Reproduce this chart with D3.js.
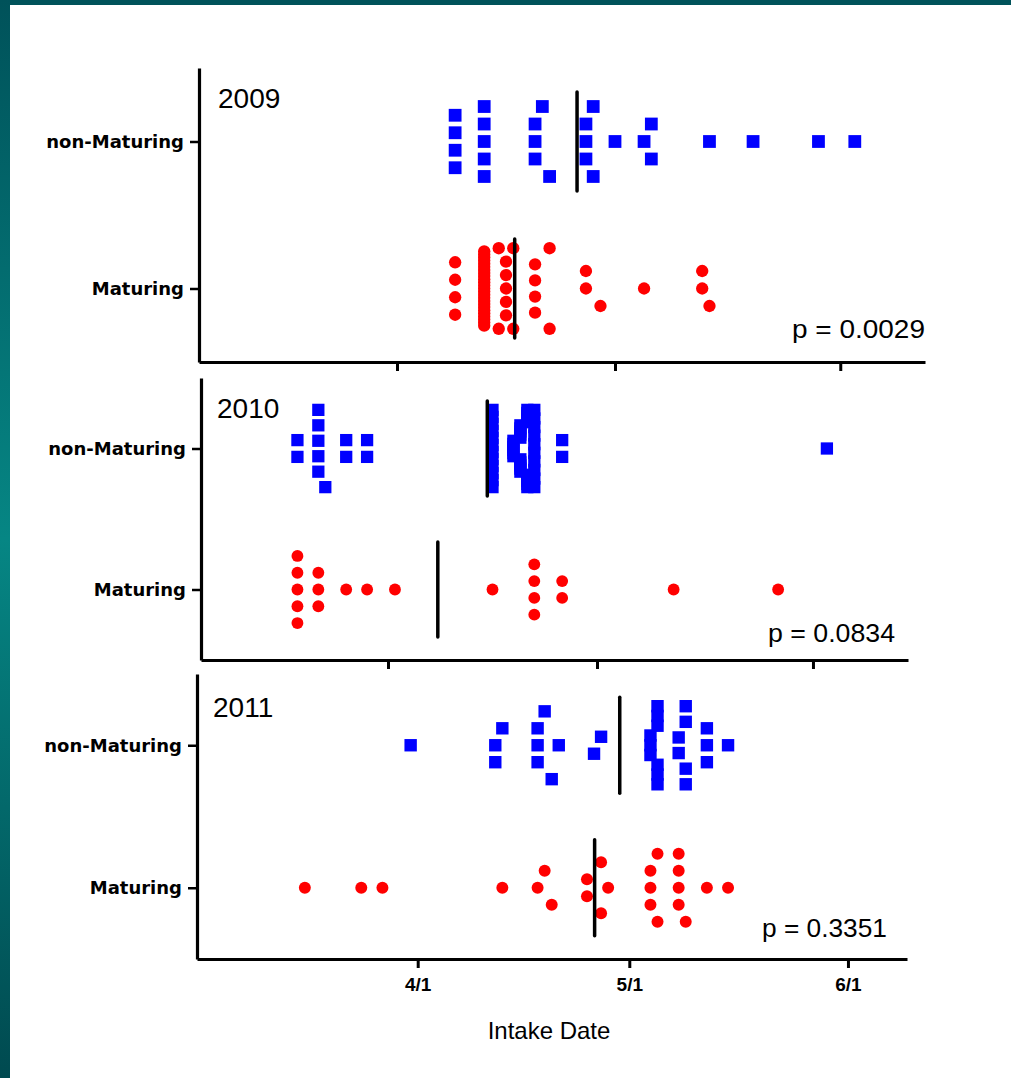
<!DOCTYPE html>
<html>
<head>
<meta charset="utf-8">
<script src="https://cdn.jsdelivr.net/npm/d3@7"></script>
<style>
  html, body { margin: 0; padding: 0; background: #fff; }
  svg { display: block; }
</style>
</head>
<body>
<svg id="chart" width="1011" height="1078"></svg>
<script>
const categories = ["non-Maturing", "Maturing"];
const years = ["2009", "2010", "2011"];
const pValues = ["p = 0.0029", "p = 0.0834", "p = 0.3351"];
const tickDates = ["4/1", "5/1", "6/1"];
const xTitle = "Intake Date";

// intake dates, one per fish; order inside a column = stacking order (Prism style)
const nonMaturing2009 = [
  "4/9", "4/9", "4/9", "4/9",
  "4/13", "4/13", "4/13", "4/13", "4/13",
  "4/20", "4/20", "4/20", "4/21", "4/22",
  "4/27", "4/27", "4/27", "4/28", "4/28",
  "5/1", "5/5", "5/6", "5/6", "5/14", "5/20", "5/29", "6/3"
];
const maturing2009 = [
  "4/9", "4/9", "4/9", "4/9",
  "4/13", "4/13", "4/13", "4/13", "4/13", "4/13", "4/13", "4/13", "4/13", "4/13",
  "4/13", "4/13", "4/13", "4/13", "4/13", "4/13", "4/13", "4/13", "4/13", "4/13",
  "4/13", "4/13", "4/13", "4/13", "4/13", "4/15", "4/15",
  "4/16", "4/16", "4/16", "4/16", "4/16", "4/17", "4/17",
  "4/20", "4/20", "4/20", "4/20", "4/22", "4/22",
  "4/27", "4/27", "4/29",
  "5/5", "5/13", "5/13", "5/14"
];
const nonMaturing2010 = [
  "3/19", "3/19",
  "3/22", "3/22", "3/22", "3/22", "3/22", "3/23",
  "3/26", "3/26", "3/29", "3/29",
  "4/16", "4/16", "4/16", "4/16", "4/16", "4/16", "4/16", "4/16", "4/16", "4/16", "4/16", "4/16",
  "4/19", "4/19", "4/19", "4/19", "4/19", "4/19",
  "4/20", "4/20", "4/20", "4/20", "4/20", "4/20", "4/20", "4/20", "4/20", "4/20",
  "4/21", "4/21", "4/21", "4/21", "4/21", "4/21", "4/21", "4/21", "4/21", "4/21",
  "4/22", "4/22", "4/22", "4/22", "4/22", "4/22", "4/22", "4/22", "4/22", "4/22",
  "4/26", "4/26", "6/3"
];
const maturing2010 = [
  "3/19", "3/19", "3/19", "3/19", "3/19",
  "3/22", "3/22", "3/22", "3/26", "3/29", "4/2",
  "4/16", "4/22", "4/22", "4/22", "4/22", "4/26", "4/26",
  "5/12", "5/27"
];
const nonMaturing2011 = [
  "3/31",
  "4/12", "4/13", "4/12",
  "4/18", "4/18", "4/18", "4/19", "4/20",
  "4/21", "4/27", "4/26",
  "5/4", "5/4", "5/4", "5/5", "5/5", "5/5", "5/5", "5/5", "5/5",
  "5/8", "5/8", "5/9", "5/9", "5/9", "5/9",
  "5/12", "5/12", "5/12", "5/15"
];
const maturing2011 = [
  "3/16", "3/24", "3/27", "4/13",
  "4/18", "4/19", "4/20",
  "4/25", "4/25", "4/27", "4/27", "4/28",
  "5/4", "5/4", "5/4", "5/5", "5/5",
  "5/8", "5/8", "5/8", "5/8", "5/9",
  "5/12", "5/15"
];
const seriesByYear = [
  [nonMaturing2009, maturing2009],
  [nonMaturing2010, maturing2010],
  [nonMaturing2011, maturing2011]
];

// panel layout (each panel was pasted in separately, so axes don't line up)
const panels = [
  {left: 199, right: 925, top: 68, bottom: 362, apr: 397, may: 615, yearX: 218, yearY: 108, pX: 925, pY: 338, pW: 133, labels: false},
  {left: 201, right: 908, top: 378, bottom: 660, apr: 388, may: 597, yearX: 217, yearY: 418, pX: 895, pY: 642, pW: 127, labels: false},
  {left: 197, right: 907, top: 674, bottom: 959, apr: 417.7, may: 629.3, yearX: 213, yearY: 717, pX: 887, pY: 937, pW: 125, labels: true}
];

const svg = d3.select("#chart");
const parse = d3.utcParse("%m/%d/%Y");

// teal slide frame
const grad = svg.append("defs").append("linearGradient")
  .attr("id", "frame").attr("x1", 0).attr("y1", 0).attr("x2", 0).attr("y2", 1);
grad.selectAll("stop")
  .data([[0, "#00525a"], [0.5, "#068684"], [1, "#004a50"]])
  .enter().append("stop")
  .attr("offset", d => d[0])
  .attr("stop-color", d => d[1]);
svg.append("rect").attr("width", 1011).attr("height", 1078).attr("fill", "#fff");
svg.append("rect").attr("width", 1011).attr("height", 5).attr("fill", "#00535a");
svg.append("rect").attr("width", 10).attr("height", 1078).attr("fill", "url(#frame)");

// spread points that fall within 2 days of each other vertically, centre-out
function swarm(dates, year, x, yc, step, maxSpread) {
  const pts = dates.map((d, i) => ({date: parse(d + "/" + year), i}));
  const sorted = pts.slice().sort((a, b) => a.date - b.date || a.i - b.i);
  const bins = [];
  sorted.forEach(p => {
    const b = bins[bins.length - 1];
    if (b && d3.utcDay.count(b.start, p.date) <= 2) b.pts.push(p);
    else bins.push({start: p.date, pts: [p]});
  });
  bins.forEach(b => {
    b.pts.sort((a, c) => a.i - c.i);
    const n = b.pts.length;
    const s = n > 1 ? Math.min(step, maxSpread / (n - 1)) : 0;
    b.pts.forEach((p, k) => {
      let slot;
      if (n % 2) slot = k === 0 ? 0 : (k % 2 ? -1 : 1) * Math.ceil(k / 2);
      else slot = (k % 2 ? 1 : -1) * (Math.floor(k / 2) + 0.5);
      p.cx = x(p.date);
      p.cy = yc + slot * s;
    });
  });
  return pts;
}

panels.forEach((pn, pi) => {
  const year = years[pi];
  const g = svg.append("g");

  const x = d3.scaleUtc()
    .domain([parse("4/1/" + year), parse("5/1/" + year)])
    .range([pn.apr, pn.may]);
  x.domain([x.invert(pn.left), x.invert(pn.right)]).range([pn.left, pn.right]);

  const y = d3.scalePoint().domain(categories).range([pn.top, pn.bottom]).padding(0.5);
  const gap = y.step();
  const step = gap * 0.119, maxSpread = gap * 0.548;
  const side = gap * 0.087, r = gap * 0.042;

  const [nonM, mat] = seriesByYear[pi];
  const nonPts = swarm(nonM, year, x, y(categories[0]), step, maxSpread);
  const matPts = swarm(mat, year, x, y(categories[1]), step, maxSpread);

  g.selectAll("rect.sq")
    .data(nonPts)
    .enter().append("rect")
    .attr("class", "sq")
    .attr("x", d => d.cx - side / 2)
    .attr("y", d => d.cy - side / 2)
    .attr("width", side)
    .attr("height", side)
    .attr("fill", "#0000ff");

  g.selectAll("circle.dot")
    .data(matPts)
    .enter().append("circle")
    .attr("class", "dot")
    .attr("cx", d => d.cx)
    .attr("cy", d => d.cy)
    .attr("r", r)
    .attr("fill", "#ff0000");

  // mean lines
  g.selectAll("line.mean")
    .data([[categories[0], nonPts], [categories[1], matPts]])
    .enter().append("line")
    .attr("class", "mean")
    .attr("x1", d => x(new Date(d3.mean(d[1], p => +p.date))))
    .attr("x2", d => x(new Date(d3.mean(d[1], p => +p.date))))
    .attr("y1", d => y(d[0]) - gap * 0.337)
    .attr("y2", d => y(d[0]) + gap * 0.337)
    .attr("stroke", "#000")
    .attr("stroke-width", 3.5)
    .attr("stroke-linecap", "round");

  // axes
  const xAxis = d3.axisBottom(x)
    .tickValues(tickDates.map(t => parse(t + "/" + year)))
    .tickSize(9)
    .tickSizeOuter(0)
    .tickPadding(10)
    .tickFormat((d, i) => pn.labels ? tickDates[i] : "");
  g.append("g")
    .attr("transform", `translate(0,${pn.bottom})`)
    .call(xAxis)
    .call(a => a.select(".domain").attr("stroke-width", 3.2))
    .call(a => a.selectAll(".tick line").attr("stroke-width", 3))
    .call(a => a.selectAll("text")
      .attr("font-family", "'Liberation Sans', Arial, sans-serif")
      .attr("font-weight", "bold")
      .attr("font-size", 19)
      .attr("fill", "#000"));

  const yAxis = d3.axisLeft(y).tickSize(9).tickSizeOuter(0).tickPadding(6);
  g.append("g")
    .attr("transform", `translate(${pn.left},0)`)
    .call(yAxis)
    .call(a => a.select(".domain").attr("stroke-width", 3.2))
    .call(a => a.selectAll(".tick line").attr("stroke-width", 2.5))
    .call(a => a.selectAll("text")
      .attr("font-family", "'DejaVu Sans', Verdana, sans-serif")
      .attr("font-weight", "bold")
      .attr("font-size", 18)
      .attr("fill", "#000"));

  g.append("text")
    .attr("x", pn.yearX)
    .attr("y", pn.yearY)
    .attr("font-family", "'Liberation Sans', Arial, sans-serif")
    .attr("font-size", 28)
    .text(year);

  g.append("text")
    .attr("x", pn.pX - pn.pW)
    .attr("y", pn.pY)
    .attr("font-family", "'Liberation Sans', Arial, sans-serif")
    .attr("font-size", 25)
    .attr("textLength", pn.pW)
    .attr("lengthAdjust", "spacingAndGlyphs")
    .text(pValues[pi]);
});

svg.append("text")
  .attr("x", 549)
  .attr("y", 1039)
  .attr("text-anchor", "middle")
  .attr("font-family", "'Liberation Sans', Arial, sans-serif")
  .attr("font-size", 24)
  .text(xTitle);
</script>
</body>
</html>
